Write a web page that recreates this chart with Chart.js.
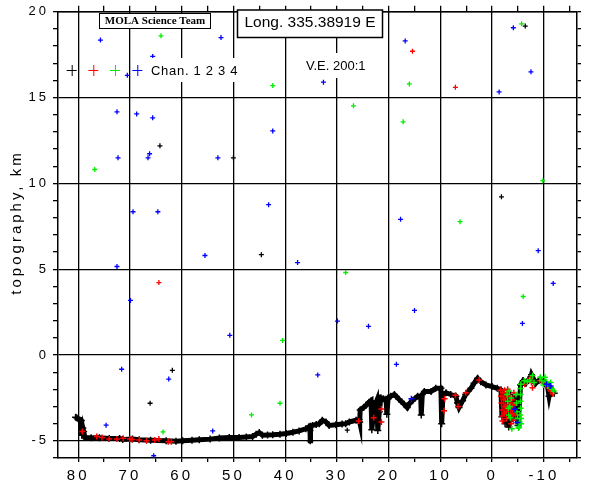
<!DOCTYPE html>
<html><head><meta charset="utf-8">
<script src="https://cdn.jsdelivr.net/npm/chart.js@4.4.1/dist/chart.umd.min.js"></script>
<style>html,body{margin:0;padding:0;background:#fff}#wrap{width:600px;height:480px}</style>
</head><body><div id="wrap"><canvas id="c" width="600" height="480"></canvas></div>
<script>
// ---- data: [latitude, topography km] ----
const xTicksMajor = [80, 70, 60, 50, 40, 30, 20, 10, 0, -10];
const yTicksMajor = [-5, 0, 5, 10, 15, 20];
const yTitle = 'topography, km';

const ch1Profile = [[80.5,-3.62],[80.3,-3.66],[80.0,-3.72],[79.7,-3.78],[79.4,-3.82],[79.35,-4.3],[79.3,-4.68],[79.1,-4.25],[78.95,-4.45],[78.7,-4.8],[77.5,-4.82],[75.9,-4.82],[74.0,-4.86],[72.0,-4.86],[71.4,-4.92],[69.5,-4.9],[68.2,-4.94],[66.0,-4.96],[63.0,-5.0],[61.1,-5.03],[59.8,-5.0],[58.0,-4.97],[56.6,-4.94],[54.5,-4.9],[52.7,-4.84],[50.8,-4.81],[48.9,-4.81],[47.5,-4.78],[46.3,-4.75],[45.6,-4.61],[45.0,-4.52],[44.4,-4.67],[43.4,-4.66],[42.4,-4.65],[41.0,-4.62],[39.8,-4.57],[38.5,-4.5],[37.3,-4.42],[36.0,-4.3],[35.4,-4.18],[35.2,-4.4],[35.15,-5.0],[35.1,-4.15],[34.7,-4.1],[34.0,-4.05],[33.4,-4.0],[32.8,-3.8],[32.1,-3.9],[31.5,-4.1],[30.2,-4.06],[29.0,-4.02],[28.3,-4.0],[27.6,-3.9],[26.3,-3.8],[25.7,-3.76],[25.6,-3.9],[25.5,-3.2],[24.8,-3.05],[24.4,-2.94],[23.8,-2.75],[23.4,-2.66],[23.25,-4.36],[23.0,-3.6],[22.8,-3.05],[22.3,-2.66],[22.1,-4.4],[21.8,-3.3],[21.5,-2.49],[21.0,-2.55],[20.5,-2.58],[20.35,-3.45],[20.1,-2.5],[19.6,-2.4],[18.9,-2.3],[18.0,-2.58],[17.0,-2.87],[16.4,-3.06],[15.9,-2.8],[15.4,-2.66],[14.4,-2.4],[13.8,-2.4],[13.7,-3.5],[13.5,-2.3],[13.1,-2.13],[11.8,-2.13],[10.9,-1.94],[9.9,-1.94],[9.75,-4.0],[9.5,-2.3],[8.9,-2.2],[8.0,-2.3],[7.0,-2.4],[6.7,-2.8],[6.4,-3.06],[5.7,-2.66],[5.1,-2.3],[4.1,-1.94],[3.5,-1.65],[2.8,-1.36],[2.2,-1.55],[1.2,-1.74],[0,-1.84],[-1.0,-1.94],[-1.7,-2.03],[-1.9,-3.6],[-2.1,-2.2],[-2.5,-4.0],[-2.9,-2.2],[-3.2,-4.2],[-3.5,-2.3],[-4.0,-3.7],[-4.4,-2.4],[-5.0,-4.1],[-5.5,-1.74],[-6.0,-1.5],[-6.5,-1.65],[-7.5,-1.27],[-7.6,-1.15],[-8.4,-1.65],[-9.1,-1.46],[-10.0,-1.55],[-10.7,-1.84],[-11.0,-2.4],[-11.3,-1.94],[-12.0,-2.23]];
const ch1Noise = [[64.2,12.19],[50.0,11.49],[44.6,5.85],[61.8,-0.89],[66.1,-2.81],[-6.4,19.17],[-1.8,9.22],[28.0,-4.38]];

const ch2Profile = [[79.2,-4.45],[76.4,-4.75],[75.4,-4.8],[74.0,-4.9],[72.5,-4.9],[71.3,-4.85],[70.0,-4.9],[69.6,-4.92],[68.2,-4.95],[66.8,-5.0],[65.2,-4.95],[64.4,-4.9],[62.6,-5.05],[62.0,-5.05],[25.8,-3.85],[22.9,-3.65],[21.4,-3.15],[21.4,-3.9],[9.3,-3.25],[9.2,-2.55],[7.1,-2.35],[6.6,-3.0],[5.1,-2.2],[2.5,-1.45],[-1.6,-2.05],[-1.7,-2.4],[-1.8,-2.8],[-1.9,-3.2],[-1.9,-3.55],[-2.0,-3.85],[-2.1,-2.2],[-2.2,-2.6],[-2.3,-3.0],[-2.35,-3.4],[-2.4,-2.05],[-2.5,-2.5],[-2.6,-2.9],[-2.7,-3.3],[-2.75,-3.7],[-2.8,-2.3],[-3.0,-2.0],[-3.4,-2.4],[-3.5,-2.8],[-3.6,-3.2],[-3.6,-3.6],[-3.7,-4.0],[-3.8,-2.6],[-3.9,-3.0],[-4.0,-3.4],[-4.1,-3.8],[-4.2,-2.2],[-4.3,-2.9],[-4.5,-3.5],[-6.3,-1.7],[-7.4,-1.35],[-7.6,-1.6],[-7.8,-1.9],[-9.2,-1.5],[-10.3,-1.6],[-10.8,-1.9],[-11.3,-2.1],[-11.7,-2.25]];
const ch2Noise = [[15.4,17.7],[7.1,15.6],[64.4,4.22]];

const ch3Profile = [[-2.9,-2.3],[-3.0,-2.7],[-3.1,-3.1],[-3.2,-3.5],[-3.3,-2.1],[-3.4,-3.0],[-3.5,-3.65],[-3.7,-2.5],[-3.8,-4.3],[-4.6,-2.3],[-4.7,-2.8],[-4.8,-3.3],[-4.9,-3.7],[-5.0,-4.05],[-5.1,-4.25],[-5.2,-4.2],[-5.3,-3.9],[-5.4,-3.5],[-5.5,-3.1],[-5.5,-2.7],[-5.5,-2.3],[-5.5,-1.95],[-5.55,-1.7],[-5.6,-3.7],[-5.6,-4.0],[-6.2,-1.5],[-6.8,-1.55],[-7.3,-1.45],[-7.8,-1.2],[-8.1,-1.6],[-9.3,-1.3],[-9.6,-1.5],[-9.9,-1.75],[-10.2,-1.3],[-10.5,-1.55],[-10.8,-1.8],[-11.3,-1.6],[-11.6,-2.0],[-11.9,-2.1]];
const ch3Noise = [[64.0,18.6],[42.4,15.7],[16.0,15.8],[-5.7,19.3],[76.8,10.81],[40.5,0.85],[26.8,14.52],[17.2,13.59],[-9.8,10.16],[6.2,7.77],[28.3,4.81],[-6.0,3.41],[63.6,-4.48],[46.5,-3.49],[41.0,-2.81]];

const ch4Profile = [[15.6,-2.55],[-4.4,-3.16],[-4.9,-3.93],[-10.5,-1.7],[-11.3,-1.8]];
const ch4Noise = [[75.7,18.35],[65.6,17.4],[70.5,16.3],[52.4,18.5],[32.6,15.9],[16.8,18.3],[-4.1,19.07],[-7.5,16.5],[-1.35,15.33],[72.5,14.17],[68.7,14.05],[65.6,13.82],[72.3,11.49],[66.2,11.73],[66.5,11.49],[53.0,11.49],[42.4,13.06],[69.4,8.35],[64.6,8.35],[43.2,8.76],[55.5,5.8],[72.5,5.16],[37.6,5.39],[69.9,3.18],[50.7,1.15],[29.9,1.98],[17.7,7.91],[-8.9,6.08],[-11.8,4.17],[23.9,1.67],[15.0,2.6],[-5.85,1.84],[71.6,-0.83],[62.5,-1.4],[74.6,-4.09],[65.4,-5.87],[54.0,-4.42],[33.7,-1.16],[18.5,-0.54]];

const chanColors = ['#000000', '#ff0000', '#00ee00', '#0000ff'];
const chanLabel = 'Chan. 1 2 3 4';

// ---- helpers ----
const pts = a => a.map(p => ({x: p[0], y: p[1]}));
const range = (a, b, s) => { const r = []; for (let v = a; s > 0 ? v <= b : v >= b; v += s) r.push(v); return r; };

const X_MIN = -16.4, X_MAX = 83.9, Y_MIN = -6, Y_MAX = 20;

function noiseSet(data, color, order) {
  return {data: pts(data), showLine: false, pointStyle: 'cross', pointRadius: 2.5,
    pointBorderWidth: 1.3, borderColor: color, backgroundColor: color, order: order};
}
function profSet(data, color, order) {
  return {data: pts(data), showLine: false, pointStyle: 'cross', pointRadius: 3,
    pointBorderWidth: 1.5, borderColor: color, backgroundColor: color, order: order};
}

const datasets = [
  {data: pts(ch1Profile), showLine: true, borderColor: '#000', borderWidth: 5, tension: 0,
   pointStyle: 'cross', pointRadius: 3.5, pointBorderWidth: 1.5, pointBorderColor: '#000', order: 8},
  noiseSet(ch1Noise, chanColors[0], 7),
  profSet(ch2Profile, chanColors[1], 6),
  noiseSet(ch2Noise, chanColors[1], 5),
  profSet(ch3Profile, chanColors[2], 4),
  noiseSet(ch3Noise, chanColors[2], 3),
  profSet(ch4Profile, chanColors[3], 2),
  noiseSet(ch4Noise, chanColors[3], 1)
];

const LS = '3px';
const annot = {
  id: 'annot',
  beforeLayout(chart) { chart.ctx.letterSpacing = LS; },
  beforeDraw(chart) {
    const c = chart.ctx;
    c.save(); c.fillStyle = '#fff'; c.fillRect(0, 0, chart.width, chart.height); c.restore();
    c.letterSpacing = LS;
  },
  afterDraw(chart) {
    const c = chart.ctx;
    c.save();
    // y-axis title
    c.save();
    c.translate(17, 224); c.rotate(-Math.PI / 2);
    c.letterSpacing = '3px';
    c.fillStyle = '#000'; c.font = '15px "Liberation Sans"';
    c.textAlign = 'center'; c.textBaseline = 'middle';
    c.fillText(yTitle, 1.5, 0);
    c.restore();
    c.letterSpacing = '0px';
    c.fillStyle = '#000'; c.strokeStyle = '#000';
    // MOLA box
    c.fillStyle = '#fff'; c.fillRect(99, 13, 112, 16);
    c.lineWidth = 1; c.strokeRect(99.5, 13.5, 111, 15);
    c.fillStyle = '#000'; c.font = 'bold 11px "Liberation Serif"';
    c.textAlign = 'center'; c.textBaseline = 'middle';
    c.fillText('MOLA Science Team', 155, 21.5);
    // Longitude box
    c.fillStyle = '#fff'; c.fillRect(237, 10, 146, 28);
    c.lineWidth = 1.5; c.strokeRect(237.5, 10, 145, 27.5);
    c.fillStyle = '#000'; c.font = '15.5px "Liberation Sans"';
    c.textAlign = 'center'; c.textBaseline = 'alphabetic';
    c.fillText('Long. 335.38919 E', 310, 27);
    // V.E.
    c.fillStyle = '#fff'; c.fillRect(299, 53, 72, 25);
    c.fillStyle = '#000'; c.font = '13px "Liberation Sans"'; c.textAlign = 'left';
    c.fillText('V.E. 200:1', 306, 70);
    // legend
    const lx = [71.7, 93.3, 115, 137.3];
    c.lineWidth = 1;
    lx.forEach((x, i) => {
      c.strokeStyle = chanColors[i];
      c.beginPath(); c.moveTo(x - 5, 70.5); c.lineTo(x + 5, 70.5);
      c.moveTo(x + 0.5, 65); c.lineTo(x + 0.5, 76); c.stroke();
    });
    c.fillStyle = '#fff'; c.fillRect(145, 58, 96, 24);
    c.fillStyle = '#000'; c.font = '13px "Liberation Sans"'; c.letterSpacing = '0.7px';
    c.fillText(chanLabel, 151, 74.5);
    c.restore();
  }
};

const tickFont = {family: 'Liberation Sans', size: 15};
const gridMajor = step => (ctx => (ctx.tick && Math.abs(ctx.tick.value % step) < 1e-9) ? '#000' : 'rgba(0,0,0,0)');

new Chart(document.getElementById('c'), {
  type: 'scatter',
  data: {datasets},
  plugins: [annot],
  options: {
    responsive: false, animation: false, events: [],
    layout: {padding: 0},
    plugins: {legend: {display: false}, tooltip: {enabled: false}},
    scales: {
      x: {
        type: 'linear', position: 'bottom', reverse: true, min: X_MIN, max: X_MAX,
        afterBuildTicks: s => { s.ticks = range(80, -15, -5).map(v => ({value: v})); },
        afterFit: s => { s.height = 22; },
        grid: {color: gridMajor(10), tickColor: '#000', lineWidth: 1.3, tickLength: 4},
        border: {display: true, color: '#000', width: 1.5},
        ticks: {autoSkip: false, maxRotation: 0, minRotation: 0, padding: 5, color: '#000', font: tickFont,
          callback: v => xTicksMajor.includes(v) ? String(v) : ''}
      },
      x2: {
        type: 'linear', position: 'top', reverse: true, min: X_MIN, max: X_MAX,
        afterBuildTicks: s => { s.ticks = range(80, -15, -5).map(v => ({value: v})); },
        afterFit: s => { s.height = 10; },
        grid: {drawOnChartArea: false, tickColor: '#000', lineWidth: 1.3, tickLength: 6},
        border: {display: true, color: '#000', width: 1.5},
        ticks: {display: false, autoSkip: false}
      },
      y: {
        type: 'linear', position: 'left', min: Y_MIN, max: Y_MAX,
        afterBuildTicks: s => { s.ticks = range(Y_MIN, Y_MAX, 1).map(v => ({value: v})); },
        afterFit: s => { s.width = 58; },
        grid: {color: gridMajor(5), tickColor: '#000', lineWidth: 1.3, tickLength: 5},
        border: {display: true, color: '#000', width: 1.5},
        ticks: {autoSkip: false, padding: 4, color: '#000', font: {family: 'Liberation Sans', size: 13},
          callback: v => yTicksMajor.includes(v) ? String(v) : ''}
      },
      y2: {
        type: 'linear', position: 'right', min: Y_MIN, max: Y_MAX,
        afterBuildTicks: s => { s.ticks = range(Y_MIN, Y_MAX, 1).map(v => ({value: v})); },
        afterFit: s => { s.width = 23; },
        grid: {drawOnChartArea: false, tickColor: '#000', lineWidth: 1.3, tickLength: 4},
        border: {display: true, color: '#000', width: 1.5},
        ticks: {display: false, autoSkip: false}
      }
    }
  }
});
</script></body></html>
